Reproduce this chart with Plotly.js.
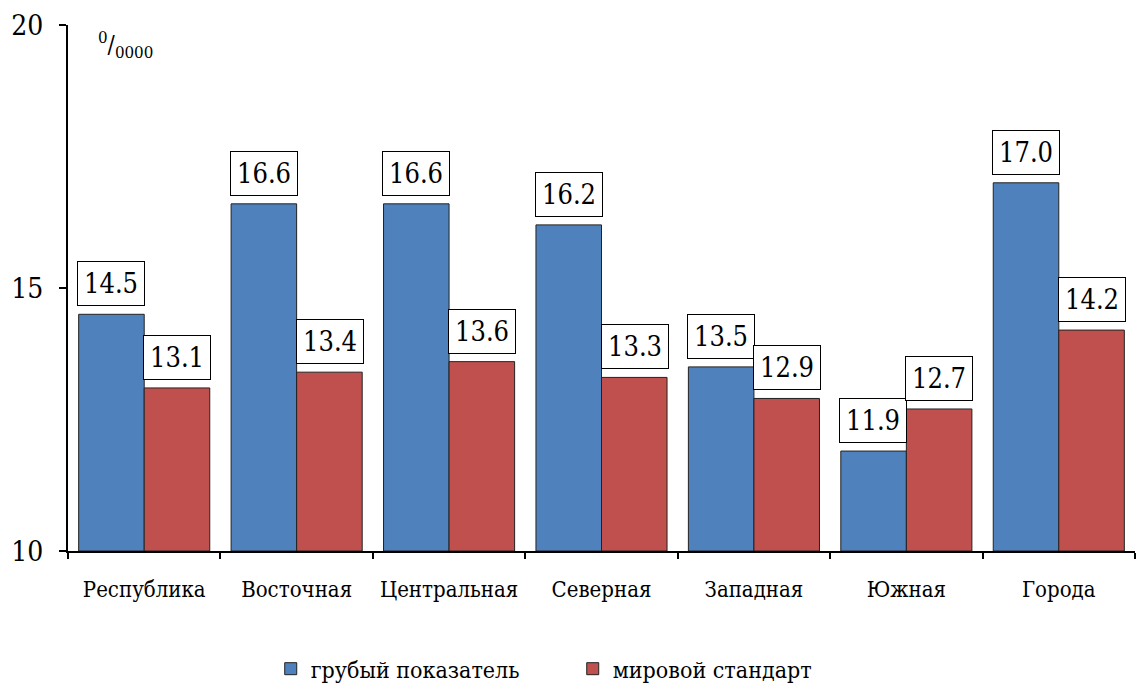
<!DOCTYPE html>
<html><head><meta charset="utf-8">
<script src="https://cdn.plot.ly/plotly-3.0.1.min.js"></script>
<style>html,body{margin:0;padding:0;background:#fff;}</style>
</head><body>
<div id="chart" style="width:1138px;height:688px;"></div>
<script>
const categories = ["Республика", "Восточная", "Центральная", "Северная", "Западная", "Южная", "Города"];
const crudeRate = [14.5, 16.6, 16.6, 16.2, 13.5, 11.9, 17.0];
const worldStandard = [13.1, 13.4, 13.6, 13.3, 12.9, 12.7, 14.2];
const seriesNames = ["грубый показатель", "мировой стандарт"];
const yTicks = [10, 15, 20];

const FONT = "DejaVu Serif Condensed";
const outline = {color: "#222", width: 1};

const traces = [
  {type: "bar", name: seriesNames[0], x: categories, y: crudeRate.map(v => v - 10), base: 10,
   marker: {color: "#4F81BD", line: outline}, hoverinfo: "skip"},
  {type: "bar", name: seriesNames[1], x: categories, y: worldStandard.map(v => v - 10), base: 10,
   marker: {color: "#C0504D", line: outline}, hoverinfo: "skip"}
];

const labelAnn = (vals, shift) => vals.map((v, i) => ({
  x: categories[i], y: v, xref: "x", yref: "y",
  text: v.toFixed(1), showarrow: false, xanchor: "center", yanchor: "bottom",
  xshift: shift, yshift: 8,
  bgcolor: "#fff", bordercolor: "#000", borderwidth: 1, borderpad: 6,
  font: {family: FONT, size: 27, color: "#000"}
}));

const annotations = [
  ...labelAnn(crudeRate, -33),
  ...labelAnn(worldStandard, 33),
  {xref: "paper", yref: "paper", x: 0.026, y: 1.0, xanchor: "left", yanchor: "top",
   text: "<sup>0</sup>/<sub>0000</sub>", showarrow: false,
   font: {family: FONT, size: 24, color: "#000"}}
];

const layout = {
  width: 1138, height: 688,
  margin: {l: 68, r: 3, t: 25, b: 137},
  paper_bgcolor: "#fff", plot_bgcolor: "#fff",
  font: {family: FONT, color: "#000"},
  barmode: "group", bargap: 0.14, bargroupgap: 0,
  showlegend: true,
  legend: {orientation: "h", x: 0.19, xanchor: "left", yref: "container", y: 0.028, yanchor: "middle",
           font: {family: FONT, size: 23, color: "#000"}, itemwidth: 30, entrywidth: 257,
           traceorder: "normal"},
  xaxis: {type: "category", showline: true, linecolor: "#000", linewidth: 2, tickangle: 0,
          ticks: "outside", tickson: "boundaries", ticklen: 6, tickwidth: 2, tickcolor: "#000",
          ticklabelstandoff: 18,
          tickfont: {family: FONT, size: 22, color: "#000"}, showgrid: false, zeroline: false,
          fixedrange: true},
  yaxis: {range: [10, 20], tickvals: yTicks, ticktext: yTicks.map(String),
          showline: true, linecolor: "#000", linewidth: 2,
          ticks: "outside", ticklen: 7, tickwidth: 2, tickcolor: "#000",
          ticklabelstandoff: 10,
          tickfont: {family: FONT, size: 28, color: "#000"}, showgrid: false, zeroline: false,
          fixedrange: true},
  annotations: annotations
};

Plotly.newPlot("chart", traces, layout, {displayModeBar: false, staticPlot: true});
</script>
</body></html>
